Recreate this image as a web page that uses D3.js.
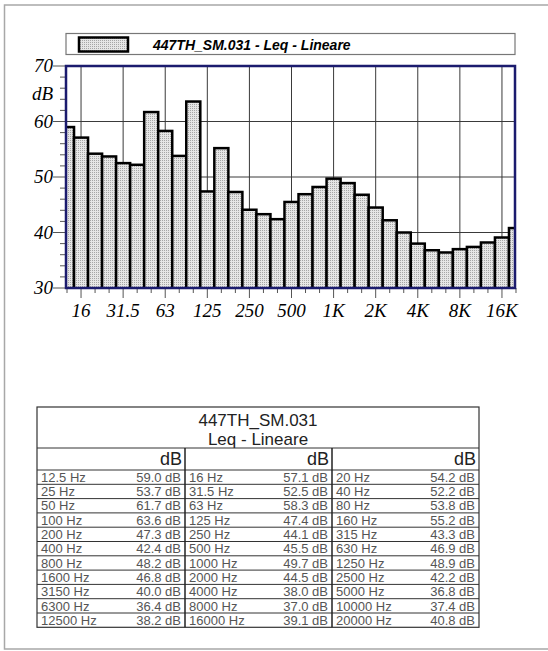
<!DOCTYPE html>
<html>
<head>
<meta charset="utf-8">
<script src="https://cdn.jsdelivr.net/npm/d3@7"></script>
<style>
body { margin: 0; background: #fff; }
svg { display: block; }
</style>
</head>
<body>
<div id="svg"></div>
<script>
// data
var freqs = ['12.5','16','20','25','31.5','40','50','63','80','100','125','160','200','250','315','400',
	'500','630','800','1000','1250','1600','2000','2500','3150','4000','5000','6300','8000','10000',
	'12500','16000','20000'];
var levels = [59.0,57.1,54.2,53.7,52.5,52.2,61.7,58.3,53.8,63.6,47.4,55.2,47.3,44.1,43.3,42.4,
	45.5,46.9,48.2,49.7,48.9,46.8,44.5,42.2,40.0,38.0,36.8,36.4,37.0,37.4,38.2,39.1,40.8];
var tickBands = ['16','31.5','63','125','250','500','1000','2000','4000','8000','16000'];
var tickLabels = ['16','31.5','63','125','250','500','1K','2K','4K','8K','16K'];
var yTicks = [30,40,50,60,70];
var title = '447TH_SM.031';
var subtitle = 'Leq - Lineare';

var width = 548, height = 651;
var svg = d3.select('#svg').append('svg').attr('width', width).attr('height', height);

var serif = '"Liberation Serif", "Times New Roman", serif';
var sans = '"Liberation Sans", Arial, sans-serif';
var navy = '#1b1b6e';

// page frame
svg.append('path')
	.attr('d', 'M548,5 H4.5 V649 H548')
	.attr('fill', 'none').attr('stroke', '#a8a8a8').attr('stroke-width', 1.5);

// stipple pattern
var pat = svg.append('defs').append('pattern')
	.attr('id', 'dots').attr('width', 2).attr('height', 2)
	.attr('patternUnits', 'userSpaceOnUse');
pat.append('rect').attr('width', 2).attr('height', 2).attr('fill', '#e6e6e6');
pat.append('rect').attr('width', 1).attr('height', 1).attr('fill', '#a6a6a6');

var L = 66, R = 515, T = 66, B = 288;

svg.select('defs').append('clipPath').attr('id', 'plotclip')
	.append('rect').attr('x', L).attr('y', T).attr('width', R - L).attr('height', B - T);

var x = d3.scaleLinear().domain([-0.5, 32.5]).range([60, 523]);
var y = d3.scaleLinear().domain([30, 70]).range([B, T]);

// legend
svg.append('rect').attr('x', L).attr('y', 33.5).attr('width', R - L).attr('height', 21)
	.attr('fill', '#fff').attr('stroke', '#777').attr('stroke-width', 1.2);
svg.append('rect').attr('x', 79).attr('y', 37.5).attr('width', 49).attr('height', 14)
	.attr('fill', 'url(#dots)').attr('stroke', '#000').attr('stroke-width', 2.5);
svg.append('text').attr('x', 153).attr('y', 49.5)
	.style('font-family', sans).style('font-size', '14px')
	.style('font-weight', 'bold').style('font-style', 'italic')
	.text(title + ' - ' + subtitle);

// grid
var g = svg.append('g');
g.selectAll()
	.data([40, 50, 60])
	.enter()
	.append('line')
	.attr('x1', L).attr('x2', R)
	.attr('y1', function(d) { return y(d) }).attr('y2', function(d) { return y(d) })
	.attr('stroke', '#3a3a3a').attr('stroke-width', 1);
g.selectAll()
	.data(tickBands)
	.enter()
	.append('line')
	.attr('x1', function(d) { return x(freqs.indexOf(d)) })
	.attr('x2', function(d) { return x(freqs.indexOf(d)) })
	.attr('y1', T).attr('y2', B)
	.attr('stroke', '#3a3a3a').attr('stroke-width', 1);

// bars
var bw = x(1) - x(0);
svg.append('g').attr('clip-path', 'url(#plotclip)')
	.selectAll()
	.data(levels)
	.enter()
	.append('rect')
	.attr('x', function(d, i) { return x(i) - bw / 2 })
	.attr('y', function(d) { return y(d) })
	.attr('width', bw)
	.attr('height', function(d) { return y(30) - y(d) + 2 })
	.attr('fill', 'url(#dots)')
	.attr('stroke', '#000')
	.attr('stroke-width', 2.5);

// x axis ticks
svg.append('g').selectAll()
	.data(freqs)
	.enter()
	.append('line')
	.attr('x1', function(d, i) { return x(i) }).attr('x2', function(d, i) { return x(i) })
	.attr('y1', B)
	.attr('y2', function(d) { return tickBands.indexOf(d) >= 0 ? B + 10 : B + 5 })
	.attr('stroke', '#555').attr('stroke-width', 1);

svg.append('g').selectAll()
	.data(tickBands)
	.enter()
	.append('text')
	.attr('x', function(d) { return x(freqs.indexOf(d)) })
	.attr('y', 317)
	.attr('text-anchor', 'middle')
	.style('font-family', serif).style('font-size', '19px').style('font-style', 'italic')
	.text(function(d, i) { return tickLabels[i] });

// y axis ticks
svg.append('g').selectAll()
	.data(d3.range(30, 71, 2))
	.enter()
	.append('line')
	.attr('x1', function(d) { return d % 10 == 0 ? 53 : 60 }).attr('x2', L)
	.attr('y1', function(d) { return y(d) }).attr('y2', function(d) { return y(d) })
	.attr('stroke', '#555').attr('stroke-width', 1);

svg.append('g').selectAll()
	.data(yTicks)
	.enter()
	.append('text')
	.attr('x', 53)
	.attr('y', function(d) { return y(d) + 6 })
	.attr('text-anchor', 'end')
	.style('font-family', serif).style('font-size', '19px').style('font-style', 'italic')
	.text(function(d) { return d });
svg.append('text').attr('x', 53).attr('y', y(65) + 6).attr('text-anchor', 'end')
	.style('font-family', serif).style('font-size', '19px').style('font-style', 'italic')
	.text('dB');

// plot frame
svg.append('rect').attr('x', L).attr('y', T).attr('width', R - L).attr('height', B - T)
	.attr('fill', 'none').attr('stroke', navy).attr('stroke-width', 2.5);

// table
var colX = [37, 185, 332, 479];
var tTop = 407, tTitle = 448, tHead = 470, rowH = 14.3;
var nRows = freqs.length / 3;
var tBot = tHead + nRows * rowH;
var tb = svg.append('g');

tb.append('rect').attr('x', colX[0]).attr('y', tTop).attr('width', colX[3] - colX[0]).attr('height', tBot - tTop)
	.attr('fill', '#fff').attr('stroke', '#333').attr('stroke-width', 1.2);
tb.append('text').attr('x', (colX[0] + colX[3]) / 2).attr('y', 426).attr('text-anchor', 'middle')
	.style('font-family', sans).style('font-size', '17px').attr('fill', '#222').text(title);
tb.append('text').attr('x', (colX[0] + colX[3]) / 2).attr('y', 445).attr('text-anchor', 'middle')
	.style('font-family', sans).style('font-size', '17px').attr('fill', '#222').text(subtitle);

// row lines
tb.selectAll()
	.data(d3.range(nRows + 1))
	.enter()
	.append('line')
	.attr('x1', colX[0]).attr('x2', colX[3])
	.attr('y1', function(d) { return d == 0 ? tTitle : tHead + (d - 1) * rowH })
	.attr('y2', function(d) { return d == 0 ? tTitle : tHead + (d - 1) * rowH })
	.attr('stroke', '#333').attr('stroke-width', 1);
// column dividers
tb.selectAll()
	.data([1, 2])
	.enter()
	.append('line')
	.attr('x1', function(d) { return colX[d] }).attr('x2', function(d) { return colX[d] })
	.attr('y1', tTitle).attr('y2', tBot)
	.attr('stroke', '#222').attr('stroke-width', 1.5);

// header dB
tb.selectAll()
	.data([0, 1, 2])
	.enter()
	.append('text')
	.attr('x', function(d) { return colX[d + 1] - 3 })
	.attr('y', 465)
	.attr('text-anchor', 'end')
	.style('font-family', sans).style('font-size', '18px').attr('fill', '#222')
	.text('dB');

// cells
var cells = freqs.map(function(f, i) {
	return {f: f, v: levels[i], r: Math.floor(i / 3), c: i % 3};
});
tb.selectAll()
	.data(cells)
	.enter()
	.append('text')
	.attr('x', function(d) { return colX[d.c] + 4 })
	.attr('y', function(d) { return tHead + d.r * rowH + 11.8 })
	.style('font-family', sans).style('font-size', '13px').attr('fill', '#555')
	.text(function(d) { return d.f + ' Hz' });
tb.selectAll()
	.data(cells)
	.enter()
	.append('text')
	.attr('x', function(d) { return colX[d.c + 1] - 4 })
	.attr('y', function(d) { return tHead + d.r * rowH + 11.8 })
	.attr('text-anchor', 'end')
	.style('font-family', sans).style('font-size', '13px').attr('fill', '#555')
	.text(function(d) { return d.v.toFixed(1) + ' dB' });
</script>
</body>
</html>
